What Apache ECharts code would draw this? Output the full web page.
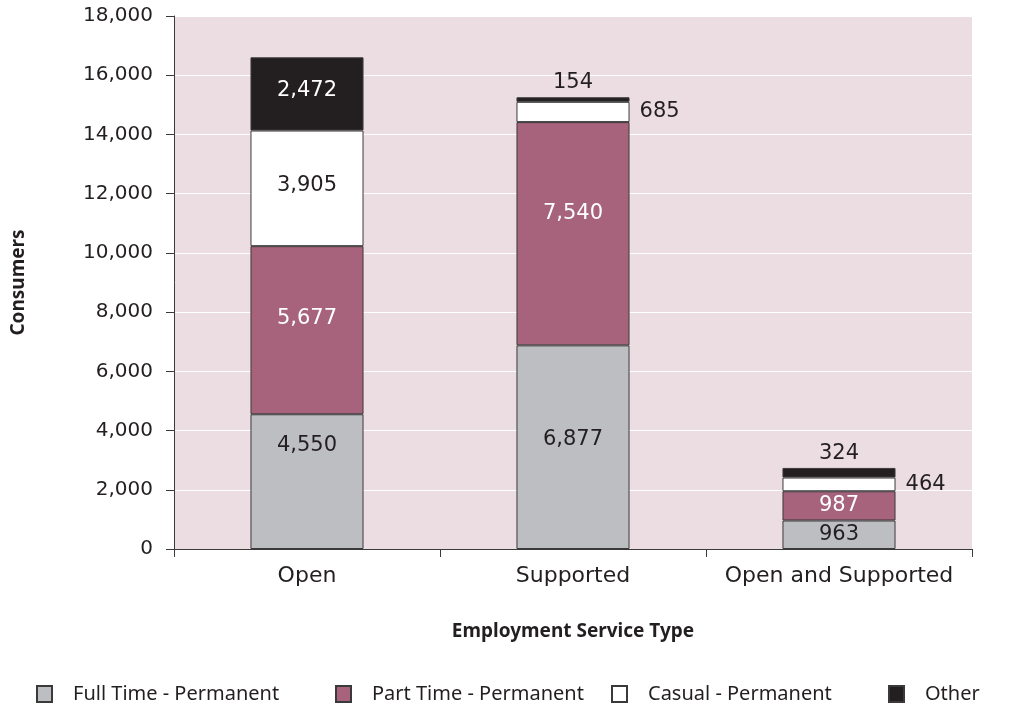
<!DOCTYPE html>
<html lang="en">
<head>
    <meta charset="UTF-8">
    <title>Employment Service Type</title>
    <style>
        html, body { margin: 0; padding: 0; background: #fff; }
        #chart { width: 1019px; height: 707px; }
    </style>
</head>
<body>
<div id="chart"></div>
<script src="https://cdn.jsdelivr.net/npm/echarts@6/dist/echarts.min.js"></script>
<script>
    // data
    const categories = ['Open', 'Supported', 'Open and Supported'];
    const seriesNames = ['Full Time - Permanent', 'Part Time - Permanent', 'Casual - Permanent', 'Other'];
    const fullTime = [4550, 6877, 963];
    const partTime = [5677, 7540, 987];
    const casual = [3905, 685, 464];
    const other = [2472, 154, 324];
    const yTicks = [0, 2000, 4000, 6000, 8000, 10000, 12000, 14000, 16000, 18000];

    // segments too thin for an inside label
    const casualOutside = [false, true, true];
    const otherOutside = [false, true, true];

    // the original labels are not all centred in their segment (pixels up)
    const fullTimeLift = [36, 8, 0];
    const partTimeLift = [12, 20, 0];
    const casualLift = [3, 0, 0];
    const otherLift = [3, 0, 0];

    const font = '"DejaVu Sans", "Open Sans", sans-serif';
    const fmt = v => v.toLocaleString('en-US');

    function seg(name, values, color, labelColor, lift, outside, outsidePos) {
        return {
            name: name,
            type: 'bar',
            stack: 'total',
            barWidth: '42.5%',
            itemStyle: { color: color, borderColor: '#3a3a3a', borderWidth: 1 },
            label: {
                show: true,
                position: 'inside',
                color: labelColor,
                fontFamily: font,
                fontSize: 21,
                formatter: p => fmt(p.value)
            },
            data: values.map((v, i) => {
                if (outside && outside[i]) {
                    return { value: v, label: { position: outsidePos, color: '#231f20', distance: outsidePos === 'top' ? 4 : 10 } };
                }
                return { value: v, label: { offset: [0, -lift[i]] } };
            })
        };
    }

    // one legend per entry so each sits where the original put it
    const legendLeft = [36, 335, 611, 888];
    const legends = seriesNames.map((n, i) => ({
        data: [n],
        left: legendLeft[i],
        bottom: 3,
        padding: 0,
        itemWidth: 15,
        itemHeight: 16,
        icon: 'rect',
        textStyle: { fontFamily: '"Noto Sans", sans-serif', fontSize: 20, color: '#231f20', padding: [0, 0, 0, 16] }
    }));

    const chart = echarts.init(document.getElementById('chart'));
    chart.setOption({
        animation: false,
        backgroundColor: '#ffffff',
        grid: { left: 174, right: 47, top: 16, bottom: 158, backgroundColor: '#ecdde3', show: true, borderWidth: 0 },
        legend: legends,
        xAxis: {
            type: 'category',
            data: categories,
            name: 'Employment Service Type',
            nameLocation: 'middle',
            nameGap: 73,
            nameTextStyle: { fontFamily: '"Noto Sans", sans-serif', fontWeight: 'bold', fontSize: 19, color: '#231f20' },
            axisLine: { lineStyle: { color: '#3a3a3a', width: 1 } },
            axisTick: { show: true, length: 8, lineStyle: { color: '#3a3a3a' } },
            axisLabel: { interval: 0, fontFamily: font, fontSize: 22, color: '#231f20', margin: 16 }
        },
        yAxis: {
            type: 'value',
            min: yTicks[0],
            max: yTicks[yTicks.length - 1],
            interval: yTicks[1] - yTicks[0],
            name: 'Consumers',
            nameLocation: 'middle',
            nameGap: 146,
            nameRotate: 90,
            nameTextStyle: { fontFamily: '"Noto Sans", sans-serif', fontWeight: 'bold', fontSize: 19, color: '#231f20' },
            axisLine: { show: true, lineStyle: { color: '#3a3a3a', width: 1 } },
            axisTick: { show: true, length: 8, lineStyle: { color: '#3a3a3a' } },
            axisLabel: { fontFamily: font, fontSize: 20, color: '#231f20', margin: 21, formatter: v => fmt(v) },
            splitLine: { show: true, lineStyle: { color: '#ffffff', width: 1 } }
        },
        series: [
            seg(seriesNames[0], fullTime, '#bdbec2', '#231f20', fullTimeLift),
            seg(seriesNames[1], partTime, '#a6637b', '#ffffff', partTimeLift),
            seg(seriesNames[2], casual, '#ffffff', '#231f20', casualLift, casualOutside, 'right'),
            seg(seriesNames[3], other, '#231f20', '#ffffff', otherLift, otherOutside, 'top')
        ]
    });
</script>
</body>
</html>
